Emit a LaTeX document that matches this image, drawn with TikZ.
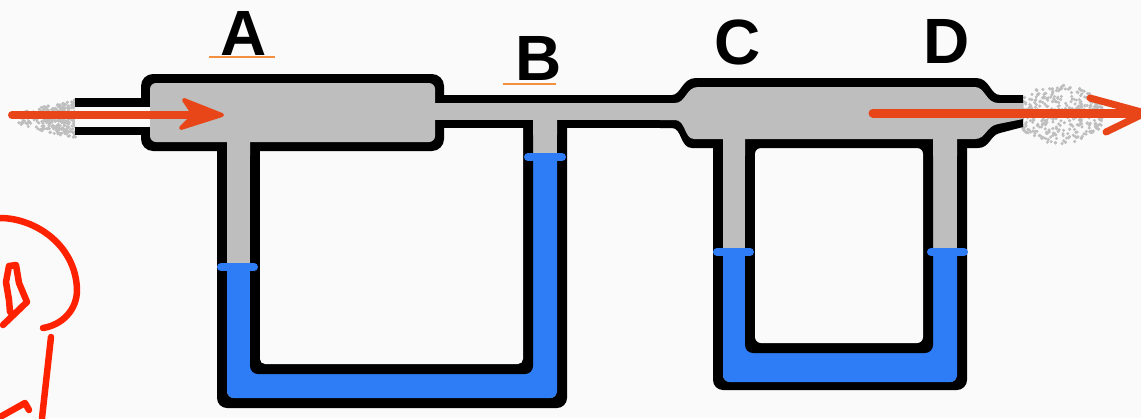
\documentclass[tikz,border=0pt]{standalone}
\usepackage{fontspec}
\newfontfamily\letterfont{Liberation Sans}
\definecolor{paper}{HTML}{FAFAFA}
\definecolor{gas}{HTML}{BEBEBE}
\definecolor{water}{HTML}{2F7DF6}
\definecolor{flow}{HTML}{E84518}
\definecolor{pen}{HTML}{FF2200}
\definecolor{underl}{HTML}{F39040}

\begin{document}
\begin{tikzpicture}[x=1pt,y=-1pt,
  lbl/.style={anchor=base,inner sep=0pt,font=\letterfont\bfseries\fontsize{64}{64}\selectfont},
  level/.style={water,line width=8pt,line cap=round},
  scrawl/.style={pen,line width=6.5pt,line cap=round,line join=round}]
        \fill[paper](0,0)rectangle(1141,418);
        \useasboundingbox(0,0)rectangle(1141,418);

        % gas leaving the nozzles
        \pgfmathsetseed{11}
        \foreach \i in {1,...,300}{
            \pgfmathsetmacro\px{14+62*sqrt(rnd)}
            \pgfmathsetmacro\hw{5+15*(\px-14)/62}
            \fill[gas](\px,{119+\hw*(2*rnd-1)})circle[radius=1.7pt];
        }
        \foreach \i in {1,...,420}{
            \pgfmathsetmacro\px{1012+90*rnd}
            \pgfmathsetmacro\hw{10+20*sin(180*(\px-1012)/95)}
            \fill[gas](\px,{114+\hw*(2*rnd-1)})circle[radius=1.7pt];
        }

        % U tube under A and B
        \fill[black,rounded corners=10](217,100)rectangle(567,408);
        \begin{scope}
            \clip[rounded corners=7](227,100)rectangle(557,398);
            \fill[gas](227,100)rectangle(557,398);
            \fill[water](227,268)rectangle(250,398)(533,157)rectangle(557,398)(227,364)rectangle(557,398);
        \end{scope}
        \fill[black,rounded corners=8](250,100)rectangle(533,374);
        \fill[paper,rounded corners=5](260,100)rectangle(523,364);

        % U tube under C and D
        \fill[black,rounded corners=10](713,100)rectangle(967,390);
        \begin{scope}
            \clip[rounded corners=7](723,100)rectangle(957,382);
            \fill[gas](723,100)rectangle(957,382);
            \fill[water](723,252)rectangle(745,382)(933,252)rectangle(957,382)(723,340)rectangle(957,382);
        \end{scope}
        \fill[black,rounded corners=8](745,100)rectangle(933,353);
        \fill[paper,rounded corners=6](755,148)rectangle(923,343);

        % pipes and chambers
        \fill[black](75,98)rectangle(150,135);
        \fill[black,rounded corners=12](141,74)rectangle(444,151);
        \fill[black](435,95)rectangle(690,128);
        \fill[black](660,95)--(672,95)..controls(681,95)and(682,78)..(696,78)--(976,78)
            ..controls(990,78)and(990,95)..(1000,95)--(1023,95)--(1023,127)--(1000,133)
            ..controls(990,135)and(990,148)..(978,148)--(692,148)
            ..controls(680,148)and(682,128)..(672,128)--(660,128)--cycle;

        \fill[gas,rounded corners=6](150,83)rectangle(435,142);
        \fill[gas](430,103)rectangle(690,120);
        \fill[gas](660,103)--(675,103)..controls(686,103)and(686,87)..(698,87)--(975,87)
            ..controls(985,87)and(986,103)..(998,103)--(1023,103)--(1023,119)--(998,124)
            ..controls(986,126)and(986,139)..(975,139)--(694,139)
            ..controls(684,139)and(686,120)..(675,120)--(660,120)--cycle;
        \fill[paper](75,107)rectangle(150,127);
        \fill[gas](227,138)rectangle(250,156)(533,115)rectangle(557,135)(723,135)rectangle(745,156)(933,135)rectangle(957,156);

        \draw[level](221,267)--(254,267);
        \draw[level](528,157)--(562,157);
        \draw[level](717,252)--(750,252);
        \draw[level](931,252)--(964,252);

        % flow in and out
        \draw[flow,line width=8pt,line cap=round](12,115)--(205,115);
        \filldraw[flow,line width=4pt,line join=round](184,100)--(222,115)--(181,128)--(194,115)--cycle;
        \draw[flow,line width=9pt,line cap=round](873,113)--(1145,113);
        \draw[flow,line width=7pt,line cap=round,line join=round](1090,98)--(1145,113)--(1106,132);

        \node[lbl](labA)at(243.5,55){A};
        \node[lbl](labB)at(539,80){B};
        \node[lbl](labC)at(737.5,64){C};
        \node[lbl](labD)at(947,63){D};
        \draw[underl,line width=2pt](209,57)--(275,57);
        \draw[underl,line width=2pt](503,84)--(556,84);

        \draw[scrawl](0,218)..controls(35,218)and(76,245)..(77,290)..controls(77,310)and(62,325)..(43,328);
        \draw[scrawl](51,337)--(42,418);
        \draw[scrawl](3,325)--(27,302)--(19,283)--(16,265)--(9,266)--(6,282)--(9,300)--(10,312);
        \draw[scrawl](0,417)--(25,403)--(29,410);
\end{tikzpicture}
\end{document}
